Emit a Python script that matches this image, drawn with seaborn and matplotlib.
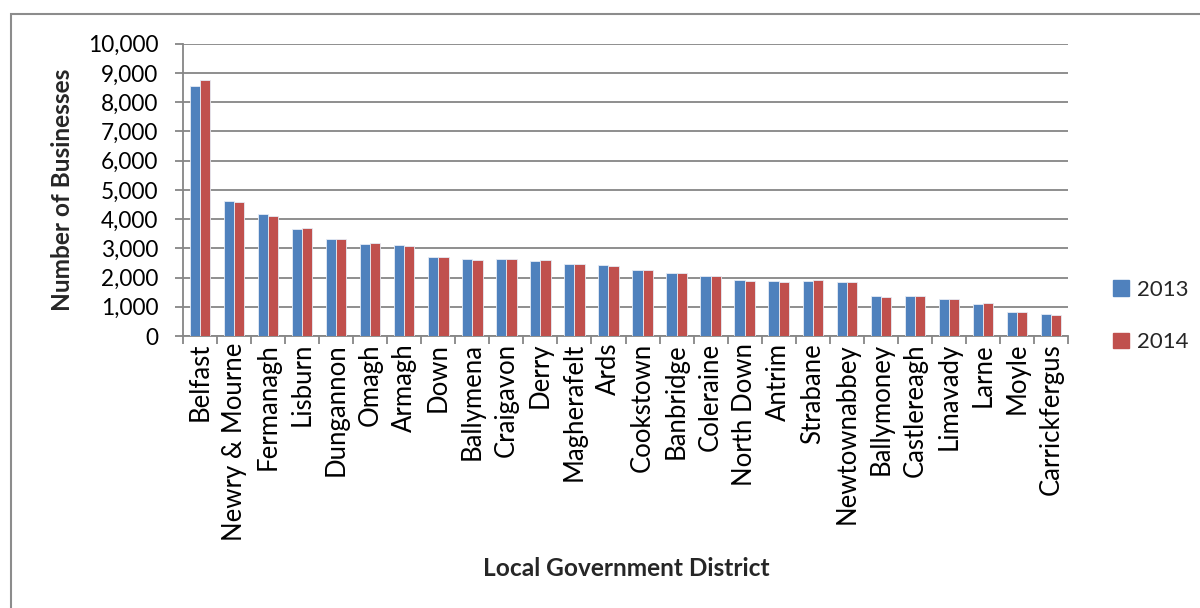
import matplotlib
matplotlib.use("Agg")
import matplotlib.pyplot as plt
import seaborn as sns
import pandas as pd
import numpy as np
from matplotlib.ticker import FuncFormatter, FixedLocator
from matplotlib.patches import Rectangle

districts = ["Belfast", "Newry & Mourne", "Fermanagh", "Lisburn", "Dungannon", "Omagh",
             "Armagh", "Down", "Ballymena", "Craigavon", "Derry", "Magherafelt", "Ards",
             "Cookstown", "Banbridge", "Coleraine", "North Down", "Antrim", "Strabane",
             "Newtownabbey", "Ballymoney", "Castlereagh", "Limavady", "Larne", "Moyle",
             "Carrickfergus"]
v2013 = [8560, 4620, 4160, 3660, 3330, 3150, 3120, 2690, 2650, 2640, 2570, 2460, 2420,
         2270, 2150, 2060, 1920, 1890, 1890, 1840, 1360, 1360, 1270, 1110, 820, 740]
v2014 = [8760, 4600, 4090, 3690, 3310, 3180, 3070, 2710, 2610, 2630, 2610, 2460, 2380,
         2260, 2170, 2060, 1870, 1840, 1930, 1850, 1330, 1360, 1250, 1120, 820, 720]
years = ["2013", "2014"]

df = pd.DataFrame({
    "District": districts * 2,
    "Year": [years[0]] * len(districts) + [years[1]] * len(districts),
    "Businesses": v2013 + v2014,
})

sns.set_theme(style="white")
plt.rcParams["font.family"] = ["Lato", "DejaVu Sans"]

fig = plt.figure(figsize=(12, 6.08), dpi=100)
ax = fig.add_axes([183 / 1200, 1 - 336 / 608, (1068 - 183) / 1200, (336 - 43.7) / 608])

palette = {"2013": "#4F81BD", "2014": "#C0504D"}
sns.barplot(data=df, x="District", y="Businesses", hue="Year", order=districts,
            hue_order=years, palette=palette, width=0.6, ax=ax, saturation=1,
            edgecolor="#E6ECF5", linewidth=0.6, zorder=3)

grid_c = "#868686"
ax.set_ylim(0, 10000)
ax.set_xlim(-0.5, len(districts) - 0.5)
ax.set_yticks(np.arange(0, 10001, 1000))
ax.yaxis.set_major_formatter(FuncFormatter(lambda v, p: f"{int(v):,}"))
ax.yaxis.grid(True, color=grid_c, linewidth=1.3, zorder=0)
ax.set_axisbelow(True)

for s in ["top", "right"]:
    ax.spines[s].set_visible(False)
for s in ["left", "bottom"]:
    ax.spines[s].set_color(grid_c)
    ax.spines[s].set_linewidth(1.3)

ax.tick_params(axis="y", which="major", direction="out", length=5.8, width=1.3,
               color=grid_c, labelsize=16.3, labelcolor="black", pad=12, left=True)
ax.tick_params(axis="x", which="major", length=0, labelsize=18.5, labelcolor="black",
               pad=5)
ax.xaxis.set_minor_locator(FixedLocator(np.arange(-0.5, len(districts), 1.0)))
ax.tick_params(axis="x", which="minor", direction="out", length=5.8, width=1.3,
               color=grid_c, bottom=True)
for lab in ax.get_xticklabels():
    lab.set_rotation(90)
    lab.set_va("top")
    lab.set_ha("center")

ax.set_xlabel("")
ax.set_ylabel("")
fig.text(626 / 1200, 1 - 568 / 608, "Local Government District", ha="center", va="center",
         fontsize=17.6, fontweight="bold")
fig.text(62 / 1200, 1 - 190 / 608, "Number of Businesses", ha="center", va="center",
         rotation=90, fontsize=17.6, fontweight="bold")

ax.get_legend().remove()
handles = [Rectangle((0, 0), 1, 1, color=palette[y]) for y in years]
fig.legend(handles, years, loc="center left", bbox_to_anchor=(1093 / 1200, 1 - 316 / 608),
           frameon=False, fontsize=16, handlelength=0.7, handleheight=0.7,
           handletextpad=0.4, labelspacing=1.45)

fig.patches.append(Rectangle((11 / 1200, -0.05), 1.2, 1 - 14 / 608 + 0.05,
                             transform=fig.transFigure, fill=False,
                             edgecolor="#8C8C8C", linewidth=1.5))

fig.savefig("out.png", dpi=100, facecolor="white")
